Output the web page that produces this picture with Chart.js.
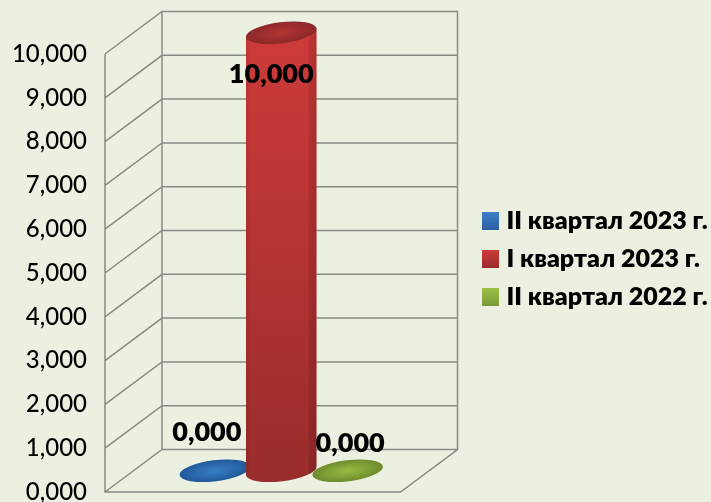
<!DOCTYPE html>
<html>
<head>
<meta charset="utf-8">
<style>
  html, body { margin: 0; padding: 0; background: #ebf0e0; }
  #chart { display: block; }
</style>
<script src="https://cdn.jsdelivr.net/npm/chart.js@4/dist/chart.umd.min.js"></script>
</head>
<body>
<div style="width:711px;height:502px"><canvas id="chart"></canvas></div>
<script>
// data
const categories = [''];
const seriesNames = ['II квартал 2023 г.', 'I квартал 2023 г.', 'II квартал 2022 г.'];
const q2_2023 = [0];
const q1_2023 = [10];
const q2_2022 = [0];
const yTickLabels = ['0,000', '1,000', '2,000', '3,000', '4,000', '5,000', '6,000', '7,000', '8,000', '9,000', '10,000'];

const FONT = 'Lato, Carlito, "Open Sans", sans-serif';
const GRID = '#888b83';
// depth of the fake 3d box
const DEPTH_X = 57;
const DEPTH_Y = 42.5;

// colours per series: light/dark of body, light/dark of cap
const shades = [
    { top: '#3d7ec6', bottom: '#2b5fa3', capIn: '#3a7fc4', capOut: '#20599a' },
    { top: '#cd3b39', bottom: '#992c2c', capIn: '#b33433', capOut: '#8c2829' },
    { top: '#9cbf48', bottom: '#7c9a34', capIn: '#9abb45', capOut: '#6e8c2b' }
];
// label offsets from the front foot of each bar
const labelOffsets = [[20.5, -60], [18.5, 20], [31, -49]];

function formatValue(v) {
    return v.toFixed(3).replace('.', ',');
}

// walls and floor, hung on the y scale
const boxPlugin = {
    id: 'box3d',
    afterLayout(chart) {
        // legend sits further right and higher than the layout would put it
        const lg = chart.legend;
        lg.left = 469;
        lg.right = 711;
        lg.top = 195.5;
        lg.bottom = 395.5;
    },
    beforeDatasetsDraw(chart) {
        const ctx = chart.ctx;
        const y = chart.scales.y;
        const left = chart.chartArea.left;
        const right = chart.chartArea.right;
        const y0 = y.getPixelForValue(y.min);
        const y1 = y.getPixelForValue(y.max);
        ctx.save();
        ctx.strokeStyle = GRID;
        ctx.lineWidth = 1.5;
        ctx.beginPath();
        // front edge of the side wall
        ctx.moveTo(left, y1);
        ctx.lineTo(left, y0);
        ctx.lineTo(right, y0);
        ctx.lineTo(right + DEPTH_X, y0 - DEPTH_Y);
        // back wall
        ctx.lineTo(right + DEPTH_X, y1 - DEPTH_Y);
        ctx.lineTo(left + DEPTH_X, y1 - DEPTH_Y);
        ctx.lineTo(left + DEPTH_X, y0 - DEPTH_Y);
        y.ticks.forEach(t => {
            const p = y.getPixelForValue(t.value);
            ctx.moveTo(left, p);
            ctx.lineTo(left + DEPTH_X, p - DEPTH_Y);
            ctx.lineTo(right + DEPTH_X, p - DEPTH_Y);
        });
        ctx.stroke();
        ctx.restore();
    },
    afterDatasetsDraw(chart) {
        const ctx = chart.ctx;
        chart.data.datasets.forEach((ds, i) => {
            drawCylinder(ctx, chart.getDatasetMeta(i).data[0], shades[i]);
        });
        // value labels
        ctx.save();
        ctx.fillStyle = '#000';
        ctx.font = '800 27px ' + FONT;
        ctx.textAlign = 'center';
        ctx.textBaseline = 'middle';
        chart.data.datasets.forEach((ds, i) => {
            const el = chart.getDatasetMeta(i).data[0];
            ctx.fillText(formatValue(ds.data[0]), el.x + labelOffsets[i][0], el.y + labelOffsets[i][1]);
        });
        // legend swatches, the legend's own box is too tied to the font size for the text gap
        seriesNames.forEach((name, i) => {
            const top = 212 + i * 38;
            const g = ctx.createLinearGradient(0, top, 0, top + 18);
            g.addColorStop(0, shades[i].top);
            g.addColorStop(1, shades[i].bottom);
            ctx.fillStyle = g;
            ctx.fillRect(482, top, 17, 18);
        });
        ctx.restore();
    }
};

function drawCylinder(ctx, el, shade) {
    const rx = el.width * 1.07 / 2;
    const ry = 10.5;
    const rot = -7 * Math.PI / 180;
    const cx = el.x + DEPTH_X / 2;
    const topY = el.y - DEPTH_Y / 2;
    const botY = el.base - DEPTH_Y / 2;
    const tx = rx * Math.cos(rot);
    const ty = rx * Math.sin(rot);

    ctx.save();
    if (botY - topY > 1) {
        // body
        ctx.beginPath();
        ctx.moveTo(cx - tx, topY - ty);
        ctx.lineTo(cx - tx, botY - ty);
        ctx.ellipse(cx, botY, rx, ry, rot, Math.PI, 0, true);
        ctx.lineTo(cx + tx, topY + ty);
        ctx.closePath();
        const g = ctx.createLinearGradient(0, topY, 0, botY + ry);
        g.addColorStop(0, shade.top);
        g.addColorStop(1, shade.bottom);
        ctx.fillStyle = g;
        ctx.fill();
        // dark strip down the right side
        const h = ctx.createLinearGradient(cx - tx, 0, cx + tx, 0);
        h.addColorStop(0, 'rgba(70,10,10,0.12)');
        h.addColorStop(0.06, 'rgba(70,10,10,0)');
        h.addColorStop(0.88, 'rgba(70,10,10,0)');
        h.addColorStop(0.9, 'rgba(70,10,10,0.14)');
        h.addColorStop(1, 'rgba(70,10,10,0.2)');
        ctx.fillStyle = h;
        ctx.fill();
    }
    // cap, radial gradient squashed to the ellipse
    ctx.translate(cx, topY);
    ctx.rotate(rot);
    ctx.scale(1, ry / rx);
    const r = ctx.createRadialGradient(0, 0, 0, 0, 0, rx);
    r.addColorStop(0, shade.capIn);
    r.addColorStop(1, shade.capOut);
    ctx.fillStyle = r;
    ctx.beginPath();
    ctx.arc(0, 0, rx, 0, Math.PI * 2);
    ctx.fill();
    ctx.restore();
}

const values = [q2_2023, q1_2023, q2_2022];

new Chart(document.getElementById('chart'), {
    type: 'bar',
    data: {
        labels: categories,
        datasets: seriesNames.map((name, i) => ({
            label: name,
            data: values[i],
            backgroundColor: 'transparent',
            borderWidth: 0,
            categoryPercentage: 0.674,
            barPercentage: 1
        }))
    },
    plugins: [boxPlugin],
    options: {
        responsive: true,
        maintainAspectRatio: false,
        animation: false,
        layout: { padding: { top: 54, bottom: 10, left: 0, right: 177 } },
        scales: {
            x: { display: false },
            y: {
                min: 0,
                max: 10,
                grid: { display: false, drawTicks: false },
                border: { display: false },
                ticks: {
                    stepSize: 1,
                    padding: 18,
                    color: '#000',
                    font: { family: FONT, size: 24, weight: '500' },
                    callback: (v, i) => yTickLabels[i]
                },
                afterFit(scale) {
                    scale.width = 105;
                    scale.paddingTop = 0;
                    scale.paddingBottom = 0;
                }
            }
        },
        plugins: {
            tooltip: { enabled: false },
            legend: {
                position: 'right',
                align: 'start',
                labels: {
                    boxWidth: 12,
                    boxHeight: 18,
                    padding: 13,
                    color: '#000',
                    font: { family: FONT, size: 25, weight: '800' },
                    generateLabels() {
                        return seriesNames.map((name, i) => (
                            { text: name, fillStyle: 'transparent', strokeStyle: 'transparent', lineWidth: 0, datasetIndex: i }
                        ));
                    }
                }
            }
        }
    }
});
</script>
</body>
</html>
